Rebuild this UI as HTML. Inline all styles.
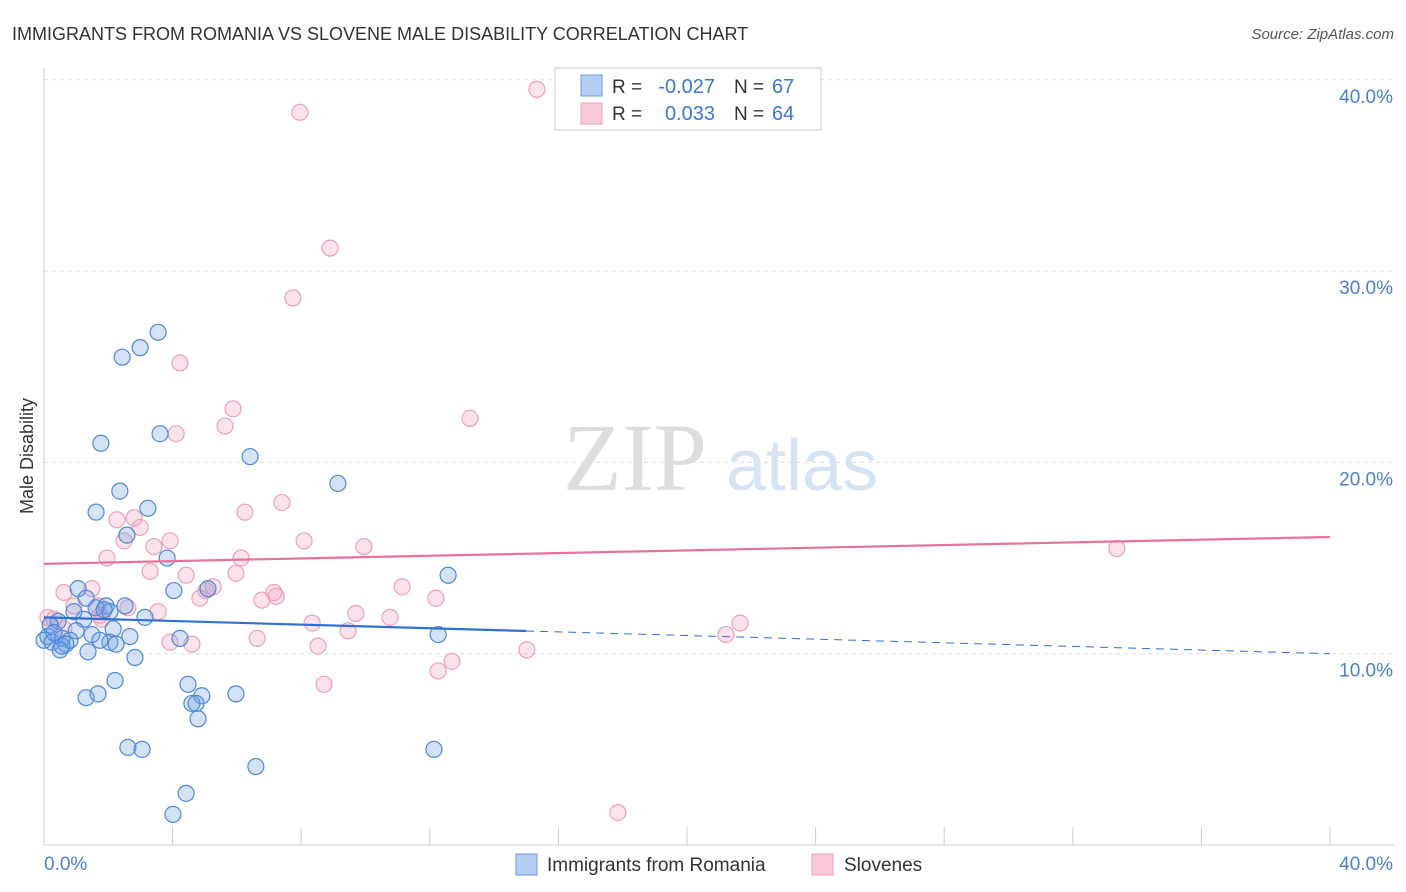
<!DOCTYPE html>
<html><head><meta charset="utf-8"><style>
body{margin:0;background:#fff;font-family:"Liberation Sans",sans-serif;}
svg{display:block}
</style></head><body>
<svg id="chart" width="1406" height="892">
<text x="12" y="40" font-size="18" fill="#333">IMMIGRANTS FROM ROMANIA VS SLOVENE MALE DISABILITY CORRELATION CHART</text>
<text x="1394" y="39" font-size="15" fill="#555" font-style="italic" text-anchor="end">Source: ZipAtlas.com</text>
<text x="33" y="456" font-size="18" fill="#333" text-anchor="middle" transform="rotate(-90 33 456)">Male Disability</text>
<g><text x="635" y="490" font-size="96" fill="#ddd" text-anchor="middle" font-family="Liberation Serif,serif">ZIP</text><text x="802" y="490" font-size="72" fill="#d6e3f5" text-anchor="middle">atlas</text></g>
<g id="grid"></g><g id="axes"></g><g id="marks"></g>
<g>
<rect x="555" y="68" width="266" height="62" fill="#fff" stroke="#ccc"/>
<rect x="581" y="75" width="21" height="21" fill="#b5cff3" stroke="#6b9be0"/>
<rect x="581" y="103" width="21" height="21" fill="#f9c9d8" stroke="#eba0bb"/>
<text x="612" y="93" font-size="19" fill="#333">R =</text>
<text x="715" y="93" font-size="20" fill="#3a78d8" text-anchor="end">-0.027</text>
<text x="734" y="93" font-size="19" fill="#333">N =</text>
<text x="772" y="93" font-size="20" fill="#3a78d8">67</text>
<text x="612" y="120" font-size="19" fill="#333">R =</text>
<text x="715" y="120" font-size="20" fill="#3a78d8" text-anchor="end">0.033</text>
<text x="734" y="120" font-size="19" fill="#333">N =</text>
<text x="772" y="120" font-size="20" fill="#3a78d8">64</text>
</g>
<g>
<rect x="516" y="854" width="21" height="21" fill="#b5cff3" stroke="#6b9be0"/>
<text x="547" y="871" font-size="19" fill="#333">Immigrants from Romania</text>
<rect x="812" y="854" width="21" height="21" fill="#f9c9d8" stroke="#eba0bb"/>
<text x="844" y="871" font-size="19" fill="#333">Slovenes</text>
</g>
</svg>
<script>
const yTicks=[10,20,30,40];
const yTickLabels=["10.0%","20.0%","30.0%","40.0%"];
const xTickLabels=["0.0%","40.0%"];
const blueX=[3.55,2.99,2.43,1.77,3.61,6.41,2.36,3.23,1.62,9.14,2.58,3.83,12.57,1.06,4.04,5.10,1.31,1.93,2.52,1.62,2.05,3.14,1.24,0.44,0.19,2.15,1.00,2.67,4.23,12.26,1.49,0.12,0.56,0.81,0,0.25,2.05,2.24,0.68,0.50,1.37,2.83,2.21,4.48,1.31,1.68,5.97,4.91,4.60,4.73,4.79,2.61,3.05,12.13,6.59,4.42,4.01,0.31,0.93,1.87,0.56,1.74];
const blueY=[26.8,26.0,25.5,21.0,21.5,20.3,18.5,17.6,17.4,18.9,16.2,15.0,14.1,13.4,13.3,13.4,12.9,12.5,12.5,12.4,12.2,11.9,11.8,11.7,11.5,11.3,11.2,10.9,10.8,11.0,11.0,10.9,10.8,10.7,10.7,10.6,10.6,10.5,10.5,10.2,10.1,9.8,8.6,8.4,7.7,7.9,7.9,7.8,7.4,7.4,6.6,5.1,5.0,5.0,4.1,2.7,1.6,11.1,12.2,12.3,10.4,10.7];
const pinkX=[15.33,7.96,8.90,7.74,4.23,5.88,13.25,4.11,5.63,6.25,7.40,2.27,2.80,2.99,2.49,3.92,3.42,8.09,9.95,1.96,6.13,3.30,5.97,4.42,33.37,1.49,5.26,0.62,7.15,7.22,5.04,11.14,4.85,6.78,12.19,0.93,1.68,3.55,9.70,10.76,0.12,0.31,1.80,8.34,21.65,0.62,1.74,9.46,21.21,6.63,3.92,4.60,8.52,15.02,12.69,12.26,8.71,17.85,2.61];
const pinkY=[39.5,38.3,31.2,28.6,25.2,22.8,22.3,21.5,21.9,17.4,17.9,17.0,17.1,16.6,15.9,15.9,15.6,15.9,15.6,15.0,15.0,14.3,14.2,14.1,15.5,13.4,13.5,13.2,13.2,13.0,13.3,13.5,12.9,12.8,12.9,12.5,12.5,12.2,12.1,11.9,11.9,11.8,11.8,11.6,11.6,11.3,12.0,11.2,11.0,10.8,10.6,10.5,10.4,10.2,9.6,9.1,8.4,1.7,12.4];
const blueTrend=[11.9,10.0];
const pinkTrend=[14.7,16.1];
const X0=44,X1=1330,Y0=845;
const sx=v=>X0+(X1-X0)*v/40;
const sy=v=>Y0-v*19.13;
const NS="http://www.w3.org/2000/svg";
function mk(tag,attrs,parent){const e=document.createElementNS(NS,tag);for(const k in attrs)e.setAttribute(k,attrs[k]);parent.appendChild(e);return e;}
const grid=document.getElementById('grid'),axes=document.getElementById('axes'),marks=document.getElementById('marks');
yTicks.forEach((t,i)=>{
 const l=mk('line',{x1:X0,x2:1394,y1:sy(t),y2:sy(t),stroke:'#ddd','stroke-dasharray':'4,4'},grid);
 
 
 const tx=mk('text',{x:1393,y:sy(t)+23,'font-size':19,fill:'#4a7fd4','text-anchor':'end'},axes);
 tx.textContent=yTickLabels[i];
 
 
});
mk('line',{x1:X0,x2:X0,y1:68,y2:Y0,stroke:'#ccc'},axes);
mk('line',{x1:X0,x2:1394,y1:Y0,y2:Y0,stroke:'#ccc'},axes);
for(let i=0;i<=10;i++){const t=mk('line',{x1:sx(i*4),x2:sx(i*4),y1:Y0,y2:Y0-18,stroke:'#ccc'},axes);
 
 }
const xl0=mk('text',{x:X0,y:870,'font-size':19,fill:'#4a7fd4'},axes);xl0.textContent=xTickLabels[0];


const xl1=mk('text',{x:1393,y:870,'font-size':19,fill:'#4a7fd4','text-anchor':'end'},axes);xl1.textContent=xTickLabels[1];


function pts(xs,ys,fill,stroke,name){xs.forEach((x,i)=>{const c=mk('circle',{cx:sx(x),cy:sy(ys[i]),r:8,fill:fill,stroke:stroke,'stroke-width':1.2},marks);
 
 });}
pts(pinkX,pinkY,'rgba(244,160,190,0.3)','#eba0bb','slovenes-point');
pts(blueX,blueY,'rgba(110,160,230,0.3)','#4f87dc','romania-point');
const tb=v=>blueTrend[0]+(blueTrend[1]-blueTrend[0])*v/40;
const b1=mk('line',{x1:sx(0),y1:sy(tb(0)),x2:sx(15),y2:sy(tb(15)),stroke:'#2f6fd6','stroke-width':2.2},marks);


const b2=mk('line',{x1:sx(15),y1:sy(tb(15)),x2:sx(40),y2:sy(tb(40)),stroke:'#2f6fd6','stroke-width':1,'stroke-dasharray':'8,6'},marks);


const p1=mk('line',{x1:sx(0),y1:sy(pinkTrend[0]),x2:sx(40),y2:sy(pinkTrend[1]),stroke:'#e8709a','stroke-width':2.2},marks);


</script>
</body></html>
